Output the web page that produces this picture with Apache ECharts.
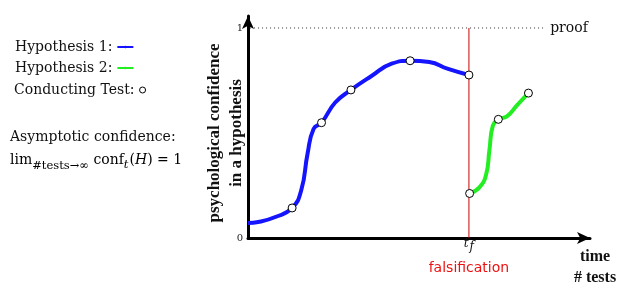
<!DOCTYPE html>
<html>
<head>
<meta charset="utf-8">
<script src="https://cdn.jsdelivr.net/npm/echarts@6/dist/echarts.min.js"></script>
<style>
  html, body { margin: 0; padding: 0; background: #fff; }
  #chart { width: 627px; height: 288px; }
</style>
</head>
<body>
<div id="chart"></div>
<script>
// time axis runs 0..100, confidence 0..1
const hyp1Time = [0, 3, 8, 12.9, 15.6, 17.4, 19.2, 21.5, 25.5, 30.1, 36.0, 42.0, 47.4, 53.0, 58.5, 64.6]
const hyp1Conf = [0.071, 0.076, 0.1, 0.143, 0.23, 0.40, 0.52, 0.549, 0.645, 0.705, 0.77, 0.83, 0.844, 0.838, 0.805, 0.776]
const hyp2Time = [64.8, 67.6, 69.6, 70.6, 71.6, 73.2, 75.7, 78.7, 82.0]
const hyp2Conf = [0.212, 0.24, 0.30, 0.42, 0.535, 0.565, 0.579, 0.633, 0.69]
const testTime = [12.9, 21.5, 30.1, 47.4, 64.6, 64.8, 73.2, 82.0]
const testConf = [0.143, 0.549, 0.705, 0.844, 0.776, 0.212, 0.565, 0.69]
const falsifyTime = 64.6
const proofEnd = 86.3
const yTicks = [0, 1]

const serif = '"DejaVu Serif", serif'
const zip = (xs, ys) => xs.map((x, i) => [x, ys[i]])

const chart = echarts.init(document.getElementById('chart'))
chart.setOption({
  animation: false,
  grid: { left: 248, right: 37, top: 16, bottom: 50 },
  legend: [
    {
      data: ['Hypothesis 1:', 'Hypothesis 2:'],
      left: 10, top: 35, orient: 'vertical', align: 'right',
      itemWidth: 16, itemHeight: 3, itemGap: 7, selectedMode: false,
      lineStyle: { width: 2 },
      textStyle: { fontFamily: serif, fontSize: 14, color: '#111' }
    },
    {
      data: ['Conducting Test:'],
      left: 9, top: 78, align: 'right',
      itemWidth: 6, itemHeight: 6, selectedMode: false,
      itemStyle: { borderWidth: 1 },
      textStyle: { fontFamily: serif, fontSize: 14, color: '#111' }
    }
  ],
  graphic: [
    {
      type: 'text', left: 10, top: 130,
      style: { text: 'Asymptotic confidence:', font: '14px "DejaVu Serif"', fill: '#111' }
    },
    {
      type: 'text', left: 10, top: 153,
      style: {
        text: '{n|lim}{s|#tests→∞}{n| conf}{si|t}{n|(}{i|H}{n|) = 1}',
        rich: {
          n: { fontFamily: serif, fontSize: 14, lineHeight: 16, verticalAlign: 'top', color: '#111' },
          i: { fontFamily: serif, fontStyle: 'italic', fontSize: 14, lineHeight: 16, verticalAlign: 'top', color: '#111' },
          s: { fontFamily: serif, fontSize: 11.5, lineHeight: 14, padding: [7, 0, 0, 0], verticalAlign: 'top', color: '#111' },
          si: { fontFamily: serif, fontStyle: 'italic', fontSize: 11.5, lineHeight: 14, padding: [6, 1, 0, 0], verticalAlign: 'top', color: '#111' }
        }
      }
    }
  ],
  xAxis: {
    type: 'value', min: 0, max: 100,
    name: 'time\n# tests', nameLocation: 'end', nameGap: 5,
    nameTextStyle: {
      fontFamily: '"Liberation Serif", serif', fontWeight: 'bold', fontSize: 16,
      lineHeight: 21, align: 'center', verticalAlign: 'top', padding: [8, 0, 0, 0], color: '#111'
    },
    axisLine: { symbol: ['none', 'arrow'], symbolSize: [9, 13], lineStyle: { color: '#000', width: 3 } },
    axisTick: { show: false },
    splitLine: { show: false },
    axisLabel: {
      customValues: [falsifyTime], margin: 0,
      formatter: () => '{t|t}{f|f}\n{r|falsification}',
      rich: {
        t: { fontFamily: serif, fontStyle: 'italic', fontSize: 12, lineHeight: 14, verticalAlign: 'top', color: '#111' },
        f: { fontFamily: serif, fontStyle: 'italic', fontSize: 12, lineHeight: 14, padding: [3, 0, 0, 1], verticalAlign: 'top', color: '#111' },
        r: { fontFamily: '"DejaVu Sans", sans-serif', fontSize: 14, lineHeight: 32, color: '#ee1111' }
      }
    }
  },
  yAxis: {
    type: 'value', min: 0, max: 1.057,
    name: 'psychological confidence\nin a hypothesis',
    nameLocation: 'middle', nameRotate: 90, nameGap: 0, nameMoveOverlap: false,
    nameTextStyle: {
      fontFamily: '"Liberation Serif", serif', fontWeight: 'bold', fontSize: 17,
      lineHeight: 22, padding: [0, 12, 0, 0], color: '#111'
    },
    axisLine: { show: true, symbol: ['none', 'arrow'], symbolSize: [9, 13], lineStyle: { color: '#000', width: 3 } },
    axisTick: { show: false },
    splitLine: { show: false },
    axisLabel: { customValues: yTicks, margin: 5, fontFamily: serif, fontSize: 10, color: '#222' }
  },
  series: [
    {
      name: 'proof', type: 'line', data: [[0.6, 1], [proofEnd, 1]],
      symbol: 'none', silent: true,
      lineStyle: { color: '#333', width: 1, type: [1, 3] },
      endLabel: { show: true, formatter: 'proof', distance: 7, fontFamily: serif, fontSize: 14, color: '#111' }
    },
    {
      name: 'falsification', type: 'line', data: [[falsifyTime, 0], [falsifyTime, 1]],
      symbol: 'none', silent: true,
      lineStyle: { color: '#cc0000', width: 1 }
    },
    {
      name: 'Hypothesis 1:', type: 'line', data: zip(hyp1Time, hyp1Conf),
      symbol: 'none', smooth: 0.5,
      itemStyle: { color: '#1414ff' },
      lineStyle: { color: '#1414ff', width: 4 }
    },
    {
      name: 'Hypothesis 2:', type: 'line', data: zip(hyp2Time, hyp2Conf),
      symbol: 'none', smooth: 0.5,
      itemStyle: { color: '#22ee22' },
      lineStyle: { color: '#22ee22', width: 4 }
    },
    {
      name: 'Conducting Test:', type: 'scatter', data: zip(testTime, testConf),
      symbolSize: 8, z: 5,
      itemStyle: { color: '#fff', borderColor: '#000', borderWidth: 1, opacity: 1 }
    }
  ]
})
</script>
</body>
</html>
